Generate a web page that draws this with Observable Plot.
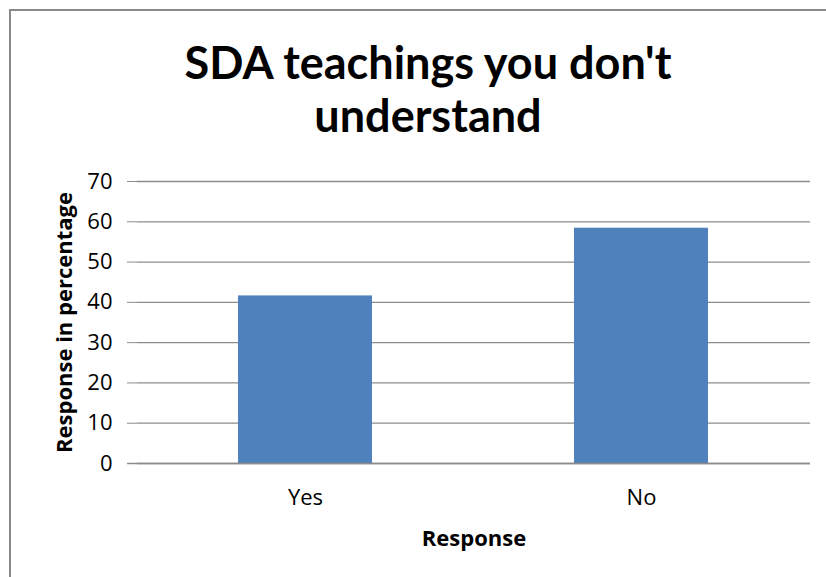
<!DOCTYPE html>
<html><head><meta charset="utf-8">
<script src="https://cdn.jsdelivr.net/npm/d3@7"></script>
<script src="https://cdn.jsdelivr.net/npm/@observablehq/plot@0.6"></script>
<style>
html,body{margin:0;padding:0;background:#fff;}
#wrap{position:relative;width:826px;height:577px;overflow:hidden;font-family:Lato,"Open Sans",sans-serif;}
#frame{position:absolute;left:9px;top:9px;width:900px;height:700px;border-left:2px solid #8a8a8a;border-top:2px solid #8a8a8a;}
#title{position:absolute;left:0;top:36px;width:856px;text-align:center;font-weight:bold;font-size:45px;line-height:53px;color:#000;}
#chart{position:absolute;left:0;top:160px;}
#chart svg text{font-size:22px;}
#chart g[aria-label="y-axis label"] text, #chart g[aria-label="x-axis label"] text{font-weight:bold;font-size:22px;}
</style>
</head><body>
<div id="wrap">
<div id="frame"></div>
<div id="title">SDA teachings you don't<br>understand</div>
<div id="chart"></div>
</div>
<script>
const categories = ["Yes", "No"];
const values = [41.6, 58.4];
const yTicks = [0, 10, 20, 30, 40, 50, 60, 70];

const data = categories.map((c, i) => ({response: c, value: values[i]}));

const plot = Plot.plot({
  width: 826,
  height: 417,
  marginTop: 21,
  marginBottom: 114,
  marginLeft: 137,
  marginRight: 16,
  style: {fontFamily: "'Open Sans', sans-serif", fontSize: "22px", color: "#000", background: "transparent"},
  x: {domain: categories, paddingInner: 0.6, paddingOuter: 0.3},
  y: {domain: [0, 70]},
  marks: [
    Plot.gridY(yTicks, {stroke: "#8c8c8c", strokeOpacity: 1, strokeWidth: 1.3}),
    Plot.barY(data, {x: "response", y: "value", fill: "#4F81BD"}),
    Plot.ruleY([0], {stroke: "#8c8c8c", strokeWidth: 1.3, insetLeft: -10}),
    Plot.ruleX([0], {frameAnchor: "left", stroke: "#8c8c8c", strokeWidth: 1.3}),
    Plot.axisY(yTicks, {tickSize: 10, tickPadding: 15, stroke: "#8c8c8c", label: "Response in percentage", labelAnchor: "center", labelOffset: 81, labelArrow: "none"}),
    Plot.axisX({tickSize: 0, tickPadding: 26, label: "Response", labelAnchor: "center", labelOffset: 82, labelArrow: "none"})
  ]
});
document.getElementById("chart").appendChild(plot);
</script>
</body></html>
